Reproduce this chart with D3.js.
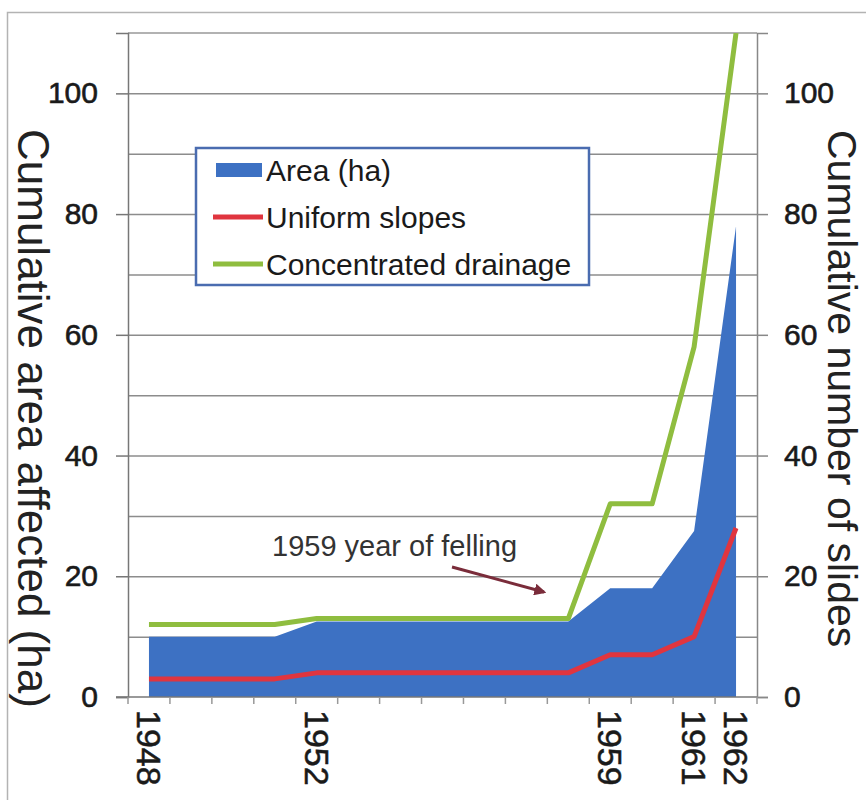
<!DOCTYPE html>
<html>
<head>
<meta charset="utf-8">
<script src="https://cdn.jsdelivr.net/npm/d3@7"></script>
<style>
  html, body { margin: 0; padding: 0; background: #fff; }
  svg { display: block; }
</style>
</head>
<body>
<div id="chart"></div>
<script>
// data
const years = [1948, 1949, 1950, 1951, 1952, 1953, 1954, 1955, 1956, 1957, 1958, 1959, 1960, 1961, 1962];
const yearLabels = [1948, 1952, 1959, 1961, 1962];
const areaHa = [10, 10, 10, 10, 12.5, 12.5, 12.5, 12.5, 12.5, 12.5, 12.5, 18, 18, 27.5, 78];
const uniformSlopes = [3, 3, 3, 3, 4, 4, 4, 4, 4, 4, 4, 7, 7, 10, 28];
const concentrated = [12, 12, 12, 12, 13, 13, 13, 13, 13, 13, 13, 32, 32, 58, 110];
const yTicks = [0, 20, 40, 60, 80, 100];
const gridTicks = [10, 20, 30, 40, 50, 60, 70, 80, 90, 100];

const W = 866, H = 800;
const plot = { left: 128, right: 757, top: 33, bottom: 697 };
const font = "Liberation Sans, Arial, sans-serif";

const svg = d3.select("#chart").append("svg")
  .attr("width", W)
  .attr("height", H);

// outer frame
svg.append("rect")
  .attr("x", 7.5).attr("y", 12.5)
  .attr("width", W).attr("height", H)
  .attr("fill", "none")
  .attr("stroke", "#b3b3b3")
  .attr("stroke-width", 1.5);

const x = d3.scaleBand()
  .domain(years)
  .range([plot.left, plot.right]);
const xc = d => x(d) + x.bandwidth() / 2;

const y = d3.scaleLinear()
  .domain([0, 110])
  .range([plot.bottom, plot.top]);

// gridlines
svg.append("g")
  .attr("transform", `translate(${plot.left},0)`)
  .call(d3.axisLeft(y).tickValues(gridTicks).tickSize(-(plot.right - plot.left)).tickFormat(""))
  .call(g => g.select(".domain").remove())
  .call(g => g.selectAll("line").attr("stroke", "#8c8c8c").attr("stroke-width", 1.5));

// top border of plot
svg.append("line")
  .attr("x1", plot.left).attr("x2", plot.right)
  .attr("y1", plot.top).attr("y2", plot.top)
  .attr("stroke", "#999").attr("stroke-width", 1.5);

// clip for series
svg.append("clipPath").attr("id", "clip")
  .append("rect")
  .attr("x", plot.left).attr("y", plot.top)
  .attr("width", plot.right - plot.left).attr("height", plot.bottom - plot.top);

const series = svg.append("g").attr("clip-path", "url(#clip)");

// area
series.append("path")
  .datum(years.map((yr, i) => ({ yr, v: areaHa[i] })))
  .attr("fill", "#3d71c3")
  .attr("d", d3.area().x(d => xc(d.yr)).y0(y(0)).y1(d => y(d.v)));

const line = d3.line().x(d => xc(d.yr)).y(d => y(d.v));

series.append("path")
  .datum(years.map((yr, i) => ({ yr, v: uniformSlopes[i] })))
  .attr("fill", "none")
  .attr("stroke", "#e0353f")
  .attr("stroke-width", 5)
  .attr("stroke-linejoin", "round")
  .attr("d", line);

series.append("path")
  .datum(years.map((yr, i) => ({ yr, v: concentrated[i] })))
  .attr("fill", "none")
  .attr("stroke", "#8fbd3f")
  .attr("stroke-width", 5)
  .attr("stroke-linejoin", "round")
  .attr("d", line);

// left axis
svg.append("g")
  .attr("transform", `translate(${plot.left},0)`)
  .call(d3.axisLeft(y).tickValues(yTicks).tickSize(12).tickPadding(18))
  .call(g => g.select(".domain").attr("stroke", "#777").attr("stroke-width", 1.5))
  .call(g => g.selectAll("line").attr("stroke", "#777").attr("stroke-width", 1.5))
  .call(g => g.selectAll("text")
    .attr("font-family", font)
    .attr("font-size", 30)
    .attr("fill", "#1a1a1a")
    .attr("stroke", "#1a1a1a")
    .attr("stroke-width", 0.6));

// right axis
svg.append("g")
  .attr("transform", `translate(${plot.right},0)`)
  .call(d3.axisRight(y).tickValues(yTicks).tickSize(11).tickPadding(16))
  .call(g => g.select(".domain").attr("stroke", "#888").attr("stroke-width", 1.5))
  .call(g => g.selectAll("line").attr("stroke", "#888").attr("stroke-width", 1.5))
  .call(g => g.selectAll("text")
    .attr("font-family", font)
    .attr("font-size", 30)
    .attr("fill", "#1a1a1a")
    .attr("stroke", "#1a1a1a")
    .attr("stroke-width", 0.6));

// bottom axis: tick marks at category boundaries
const xAxis = svg.append("g");
xAxis.append("line")
  .attr("x1", plot.left - 12).attr("x2", plot.right)
  .attr("y1", plot.bottom).attr("y2", plot.bottom)
  .attr("stroke", "#777").attr("stroke-width", 1.5);
xAxis.selectAll(".xtick")
  .data(years.concat(["end"]))
  .enter().append("line")
  .attr("x1", d => d === "end" ? plot.right : x(d))
  .attr("x2", d => d === "end" ? plot.right : x(d))
  .attr("y1", plot.bottom)
  .attr("y2", plot.bottom + 7)
  .attr("stroke", "#999").attr("stroke-width", 1.5);

xAxis.selectAll(".xlabel")
  .data(yearLabels)
  .enter().append("text")
  .attr("transform", d => `translate(${xc(d) - 12},${plot.bottom + 13}) rotate(90)`)
  .attr("font-family", font)
  .attr("font-size", 34)
  .attr("fill", "#1a1a1a")
  .attr("stroke", "#1a1a1a")
  .attr("stroke-width", 0.5)
  .text(d => d);

// axis titles
svg.append("text")
  .attr("transform", "translate(18,129) rotate(90)")
  .attr("font-family", font)
  .attr("font-size", 44)
  .attr("fill", "#222")
  .text("Cumulative area affected (ha)");

svg.append("text")
  .attr("transform", "translate(828,130) rotate(90)")
  .attr("font-family", font)
  .attr("font-size", 41)
  .attr("fill", "#222")
  .text("Cumulative number of slides");

// annotation
svg.append("defs").append("marker")
  .attr("id", "arrow")
  .attr("viewBox", "0 0 10 10")
  .attr("refX", 8).attr("refY", 5)
  .attr("markerWidth", 4).attr("markerHeight", 4)
  .attr("orient", "auto")
  .append("path")
  .attr("d", "M0,0L10,5L0,10z")
  .attr("fill", "#7a2c3a");

svg.append("text")
  .attr("x", 272).attr("y", 556)
  .attr("font-family", font)
  .attr("font-size", 29)
  .attr("fill", "#333")
  .text("1959 year of felling");

svg.append("line")
  .attr("x1", 452).attr("y1", 567)
  .attr("x2", 544).attr("y2", 592)
  .attr("stroke", "#7a2c3a")
  .attr("stroke-width", 3)
  .attr("marker-end", "url(#arrow)");

// legend
const legend = svg.append("g");
legend.append("rect")
  .attr("x", 196).attr("y", 148)
  .attr("width", 393).attr("height", 137)
  .attr("fill", "#fff")
  .attr("stroke", "#4a6cb0")
  .attr("stroke-width", 2.5);

const legendItems = [
  { name: "Area (ha)", type: "area", color: "#3d71c3", ty: 181 },
  { name: "Uniform slopes", type: "line", color: "#e0353f", ty: 228 },
  { name: "Concentrated drainage", type: "line", color: "#8fbd3f", ty: 275 }
];

legendItems.forEach(d => {
  if (d.type === "area") {
    legend.append("rect")
      .attr("x", 216).attr("y", 163)
      .attr("width", 46).attr("height", 14)
      .attr("fill", d.color);
  } else {
    legend.append("line")
      .attr("x1", 213).attr("x2", 263)
      .attr("y1", d.ty - 11).attr("y2", d.ty - 11)
      .attr("stroke", d.color)
      .attr("stroke-width", 5);
  }
  legend.append("text")
    .attr("x", 266).attr("y", d.ty)
    .attr("font-family", font)
    .attr("font-size", 30)
    .attr("fill", "#1a1a1a")
    .text(d.name);
});
</script>
</body>
</html>
